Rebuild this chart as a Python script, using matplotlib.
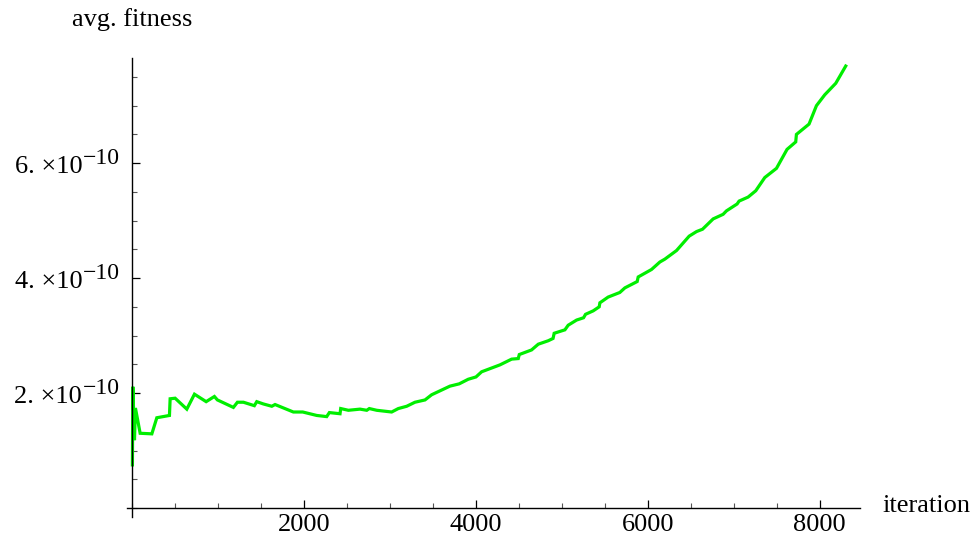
import numpy as np
import matplotlib
matplotlib.use("Agg")
import matplotlib.pyplot as plt
from matplotlib.ticker import MultipleLocator, FuncFormatter, FixedLocator, NullFormatter

plt.rcParams['font.family'] = ['Liberation Serif', 'DejaVu Serif']
plt.rcParams['mathtext.fontset'] = 'stix'

iteration = [3, 8, 27, 38, 93, 229, 287, 434, 442, 500, 636, 725, 861, 957, 992,
             1178, 1225, 1295, 1422, 1450, 1527, 1625, 1663, 1876, 1985, 2148, 2264,
             2295, 2419, 2427, 2516, 2652, 2730, 2760, 2846, 3020, 3097, 3195, 3291,
             3408, 3485, 3698, 3806, 3911, 4001, 4067, 4280, 4416, 4493, 4505, 4648,
             4726, 4842, 4898, 4911, 5036, 5074, 5172, 5253, 5276, 5365, 5435, 5443,
             5539, 5675, 5734, 5877, 5889, 6044, 6141, 6199, 6335, 6482, 6568, 6637,
             6761, 6877, 6916, 7040, 7063, 7168, 7257, 7362, 7498, 7621, 7722, 7730,
             7877, 7963, 8060, 8188, 8304]
fitness_e10 = [0.75, 2.11, 1.18, 1.74, 1.30, 1.29, 1.57, 1.61, 1.90, 1.91, 1.72, 1.98,
               1.85, 1.94, 1.88, 1.75, 1.84, 1.84, 1.78, 1.85, 1.81, 1.77, 1.80, 1.67,
               1.67, 1.61, 1.59, 1.66, 1.64, 1.73, 1.70, 1.72, 1.70, 1.73, 1.70, 1.67,
               1.73, 1.77, 1.84, 1.88, 1.97, 2.12, 2.16, 2.24, 2.28, 2.37, 2.49, 2.59,
               2.60, 2.67, 2.75, 2.85, 2.91, 2.95, 3.04, 3.10, 3.18, 3.27, 3.31, 3.37,
               3.43, 3.50, 3.57, 3.67, 3.75, 3.83, 3.94, 4.02, 4.15, 4.28, 4.33, 4.48,
               4.73, 4.81, 4.85, 5.03, 5.11, 5.17, 5.29, 5.34, 5.41, 5.52, 5.75, 5.91,
               6.24, 6.37, 6.50, 6.68, 7.00, 7.19, 7.39, 7.69]
fitness = np.array(fitness_e10) * 1e-10

x_major = [2000, 4000, 6000, 8000]
y_major_e10 = [2, 4, 6]
x_label = "iteration"
y_label = "avg. fitness"

W, H = 976, 542
fig = plt.figure(figsize=(W / 100, H / 100), dpi=100)
left_px, right_px = 127, 860
top_px, bottom_px = 58, 517
ax = fig.add_axes([left_px / W, 1 - bottom_px / H,
                   (right_px - left_px) / W, (bottom_px - top_px) / H])

ax.plot(iteration, fitness, color='#00ee00', lw=2.3, solid_joinstyle='miter')

ax.set_xlim(-60, 8470)
ax.set_ylim(-0.157e-10, 7.83e-10)

for s in ['top', 'right']:
    ax.spines[s].set_visible(False)
ax.spines['left'].set_position(('data', 0))
ax.spines['bottom'].set_position(('data', 0))
for s in ['left', 'bottom']:
    ax.spines[s].set_linewidth(1.0)

ax.xaxis.set_major_locator(FixedLocator(x_major))
ax.xaxis.set_minor_locator(MultipleLocator(500))
ax.yaxis.set_major_locator(FixedLocator([v * 1e-10 for v in y_major_e10]))
ax.yaxis.set_minor_locator(MultipleLocator(0.5e-10))

ax.xaxis.set_major_formatter(FuncFormatter(lambda v, p: f"{int(round(v))}"))
ax.yaxis.set_major_formatter(NullFormatter())

ax.tick_params(axis='both', which='major', direction='in', length=6, width=0.9,
               labelsize=19, color='black')
ax.tick_params(axis='both', which='minor', direction='in', length=3.5, width=0.8,
               color='#555555')
ax.tick_params(axis='x', which='major', pad=4)

# y tick labels in Mathematica style: "2. ×10" with a large superscript "−10"
px2pt = 72 / 100
sups = []
mains = []
for m in y_major_e10:
    v = m * 1e-10
    sup = ax.annotate("\u221210", xy=(0, v), xycoords='data',
                      xytext=(-12 * px2pt, -1 * px2pt), textcoords='offset points',
                      ha='right', va='baseline', fontsize=17)
    main = ax.annotate(f"{m}. \u00d710", xy=(0, v), xycoords='data',
                       xytext=(-50 * px2pt, -10 * px2pt), textcoords='offset points',
                       ha='right', va='baseline', fontsize=19)
    sups.append(sup)
    mains.append(main)

fig.canvas.draw()
renderer = fig.canvas.get_renderer()
for sup, main in zip(sups, mains):
    w = sup.get_window_extent(renderer).width
    main.set_position((-(12 + w + 1) * px2pt, -10 * px2pt))

fig.text(882 / W, 1 - 506 / H, x_label, fontsize=19, ha='left', va='center')
fig.text(132 / W, 1 - 20 / H, y_label, fontsize=19, ha='center', va='center')

fig.savefig("out.png", dpi=100)
